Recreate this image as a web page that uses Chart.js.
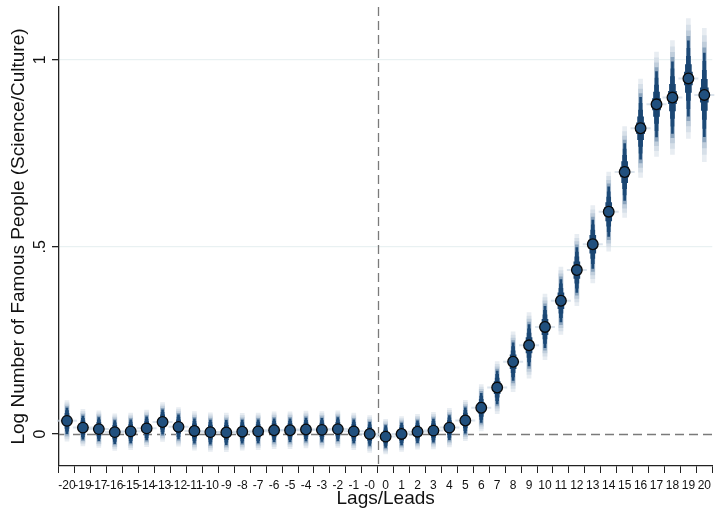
<!DOCTYPE html>
<html>
<head>
<meta charset="utf-8">
<script src="https://cdn.jsdelivr.net/npm/chart.js@4.4.1/dist/chart.umd.min.js"></script>
<style>
  html, body { margin: 0; padding: 0; background: #fff; }
  #wrap { width: 716px; height: 510px; }
</style>
</head>
<body>
<div id="wrap"><canvas id="event-study"></canvas></div>
<script>
// lags/leads as they appear on the axis (-18 is not in the picture)
const labels = ['-20', '-19', '-17', '-16', '-15', '-14', '-13', '-12', '-11', '-10',
  '-9', '-8', '-7', '-6', '-5', '-4', '-3', '-2', '-1', '-0',
  '0', '1', '2', '3', '4', '5', '6', '7', '8', '9', '10',
  '11', '12', '13', '14', '15', '16', '17', '18', '19', '20'];

// point estimates
const estimates = [0.035, 0.017, 0.013, 0.005, 0.007, 0.015, 0.032, 0.019, 0.008, 0.005,
  0.004, 0.006, 0.007, 0.010, 0.010, 0.012, 0.011, 0.013, 0.007, 0.000,
  -0.007, 0.000, 0.006, 0.009, 0.017, 0.036, 0.070, 0.124, 0.193, 0.237, 0.286,
  0.356, 0.438, 0.507, 0.594, 0.700, 0.817, 0.881, 0.899, 0.950, 0.906];

// standard errors
const stdErrors = [0.021, 0.019, 0.019, 0.019, 0.019, 0.019, 0.020, 0.020, 0.020, 0.020,
  0.020, 0.019, 0.019, 0.019, 0.019, 0.019, 0.019, 0.019, 0.019, 0.019,
  0.018, 0.018, 0.018, 0.019, 0.020, 0.021, 0.024, 0.027, 0.031, 0.034, 0.034,
  0.035, 0.037, 0.040, 0.041, 0.047, 0.051, 0.054, 0.059, 0.062, 0.069];

const yTicks = [0, 0.5, 1];
const yTickText = ['0', '.5', '1'];

// smoothed confidence bands: [z, bar width, colour], outermost first
const bands = [
  [2.58, 4, '#e8edf2'],
  [2.30, 4, '#d6dfe8'],
  [2.05, 4, '#bfcddb'],
  [1.82, 3, '#8aa3bc'],
  [1.62, 2, '#1d4a77'],
  [1.30, 3, '#1d4a77'],
  [0.95, 4, '#1b4774'],
  [0.60, 6, '#1a4571'],
  [0.28, 8, '#18426d'],
];

const bandSets = bands.map(([z, w, c], k) => ({
  type: 'bar',
  data: estimates.map((e, i) => [e - z * stdErrors[i], e + z * stdErrors[i]]),
  backgroundColor: c,
  barThickness: w,
  grouped: false,
  order: 100 - k,
}));

const refLines = {
  id: 'refLines',
  beforeDatasetsDraw(chart) {
    const { ctx, chartArea, scales } = chart;
    ctx.save();
    ctx.strokeStyle = '#7a7a7a';
    ctx.lineWidth = 1.3;
    ctx.setLineDash([9, 5]);
    const y0 = Math.round(scales.y.getPixelForValue(0)) + 0.5;
    ctx.beginPath();
    ctx.moveTo(chartArea.left, y0);
    ctx.lineTo(chartArea.right, y0);
    ctx.stroke();
    const xs = (scales.x.getPixelForValue(19) + scales.x.getPixelForValue(20)) / 2;
    ctx.beginPath();
    ctx.moveTo(Math.round(xs) + 0.5, chartArea.top);
    ctx.lineTo(Math.round(xs) + 0.5, chartArea.bottom);
    ctx.stroke();
    ctx.restore();
  },
  afterDraw(chart) {
    // rotated y tick labels, Stata style
    const { ctx, scales } = chart;
    ctx.save();
    ctx.fillStyle = '#111';
    ctx.font = '16px "Liberation Sans"';
    ctx.textAlign = 'center';
    ctx.textBaseline = 'middle';
    yTicks.forEach((v, i) => {
      ctx.save();
      ctx.translate(scales.y.left + 41, scales.y.getPixelForValue(v));
      ctx.rotate(-Math.PI / 2);
      ctx.fillText(yTickText[i], 0, 0);
      ctx.restore();
    });
    ctx.restore();
  }
};

new Chart(document.getElementById('event-study'), {
  data: {
    labels: labels,
    datasets: [
      {
        type: 'line',
        data: estimates,
        showLine: false,
        pointRadius: 5.3,
        pointBackgroundColor: '#21507e',
        pointBorderColor: '#0a0a0a',
        pointBorderWidth: 1.3,
        order: 1,
      },
      {
        type: 'line',
        data: estimates,
        showLine: false,
        pointStyle: 'line',
        pointRadius: 10,
        pointBorderColor: 'rgba(205,216,228,0.7)',
        pointBorderWidth: 2,
        order: 2,
      },
      ...bandSets,
    ],
  },
  options: {
    responsive: true,
    maintainAspectRatio: false,
    animation: false,
    layout: { autoPadding: false, padding: { top: 7, right: 1, left: 0, bottom: 0 } },
    plugins: { legend: { display: false }, tooltip: { enabled: false } },
    scales: {
      x: {
        type: 'category',
        offset: true,
        grid: { drawOnChartArea: false, tickColor: '#222', tickLength: 7, tickWidth: 1 },
        border: { color: '#222', width: 1.3 },
        ticks: {
          color: '#111', font: { family: 'Liberation Sans', size: 12 },
          autoSkip: false, maxRotation: 0, minRotation: 0, padding: 5,
        },
        title: {
          display: true, text: 'Lags/Leads', color: '#111',
          font: { family: 'Liberation Sans', size: 19 }, padding: { top: 0, bottom: 0 },
        },
        afterFit(scale) { scale.height = 44; },
      },
      y: {
        min: -0.0856,
        max: 1.141,
        afterBuildTicks(scale) { scale.ticks = yTicks.map(v => ({ value: v })); },
        grid: {
          color: ctx => (ctx.tick && ctx.tick.value === 0 ? 'rgba(0,0,0,0)' : '#e9f1f2'),
          lineWidth: 1.3, tickColor: '#222', tickLength: 7,
        },
        border: { color: '#222', width: 1.3 },
        ticks: { display: false },
        title: {
          display: true, text: 'Log Number of Famous People (Science/Culture)', color: '#111',
          font: { family: 'Liberation Sans', size: 19 }, padding: { top: 7, bottom: 0 },
        },
        afterFit(scale) { scale.width = 59; },
      },
    },
  },
  plugins: [refLines],
});
</script>
</body>
</html>
